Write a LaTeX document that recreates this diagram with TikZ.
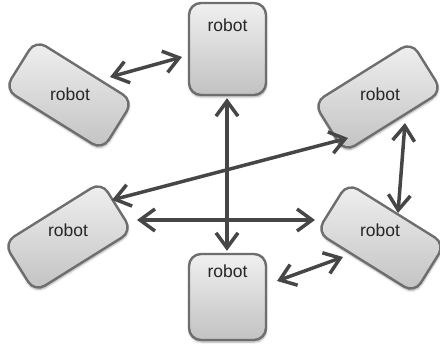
\documentclass[tikz,border=0pt]{standalone}
\usepackage{fontspec}
\setmainfont{Liberation Sans}
\usetikzlibrary{arrows.meta,calc,shadows.blur}
\definecolor{arrowgray}{HTML}{464646}
\definecolor{bordergray}{HTML}{6E6E6E}
\definecolor{filltop}{HTML}{F0F0F0}
\definecolor{fillbot}{HTML}{C2C2C2}
\definecolor{textgray}{HTML}{262626}
\begin{document}
\begin{tikzpicture}[x=1pt,y=-1pt,
  robotbox/.style={draw=bordergray, line width=2.4pt, rounded corners=12pt,
    top color=filltop, bottom color=fillbot,
    blur shadow={shadow blur steps=6, shadow xshift=0.5pt, shadow yshift=-2pt, shadow opacity=35}},
  upright/.style={robotbox, minimum width=77pt, inner xsep=0pt, inner ysep=8pt,
    font=\fontsize{17.5}{20}\selectfont, text=textgray},
  tilted/.style={robotbox, minimum width=115pt, minimum height=58pt, inner sep=0pt},
  robotlabel/.style={font=\fontsize{17.5}{20}\selectfont, text=textgray, inner sep=0pt},
  biarrow/.style={draw=arrowgray, line width=3.5pt,
    {Straight Barb[length=15pt,width=22pt]}-{Straight Barb[length=15pt,width=22pt]}}
]
\useasboundingbox (0,0) rectangle (440,350);

\node[upright, text height=21pt, text depth=55pt] (top) at (227.5,49) {robot};
\node[upright, text height=16pt, text depth=54pt] (bottom) at (227.5,297) {robot};
\node[tilted, rotate=-32] (tl) at (69,95) {};
\node[tilted, rotate=32] (tr) at (378,97) {};
\node[tilted, rotate=32] (bl) at (68,237) {};
\node[tilted, rotate=-32] (br) at (381,238) {};
\node[robotlabel] (tltext) at (70,94) {robot};
\node[robotlabel] (trtext) at (380,94) {robot};
\node[robotlabel] (bltext) at (68,230) {robot};
\node[robotlabel] (brtext) at (380,230) {robot};

\draw[biarrow] ($(tl)+(41,-18)$) -- ($(top)+(-45.5,8)$);
\draw[biarrow] ($(top.south)+(-0.5,2)$) -- ($(bottom.north)+(-0.5,-2)$);
\draw[biarrow] ($(bl)+(44,-37)$) -- ($(tr)+(-30,41)$);
\draw[biarrow] ($(bl)+(69,-17)$) -- ($(br)+(-66,-18)$);
\draw[biarrow] ($(tr)+(27,26)$) -- ($(br)+(17,-25)$);
\draw[biarrow] ($(bottom)+(49.5,-16)$) -- ($(br)+(-38,19)$);
\end{tikzpicture}
\end{document}
